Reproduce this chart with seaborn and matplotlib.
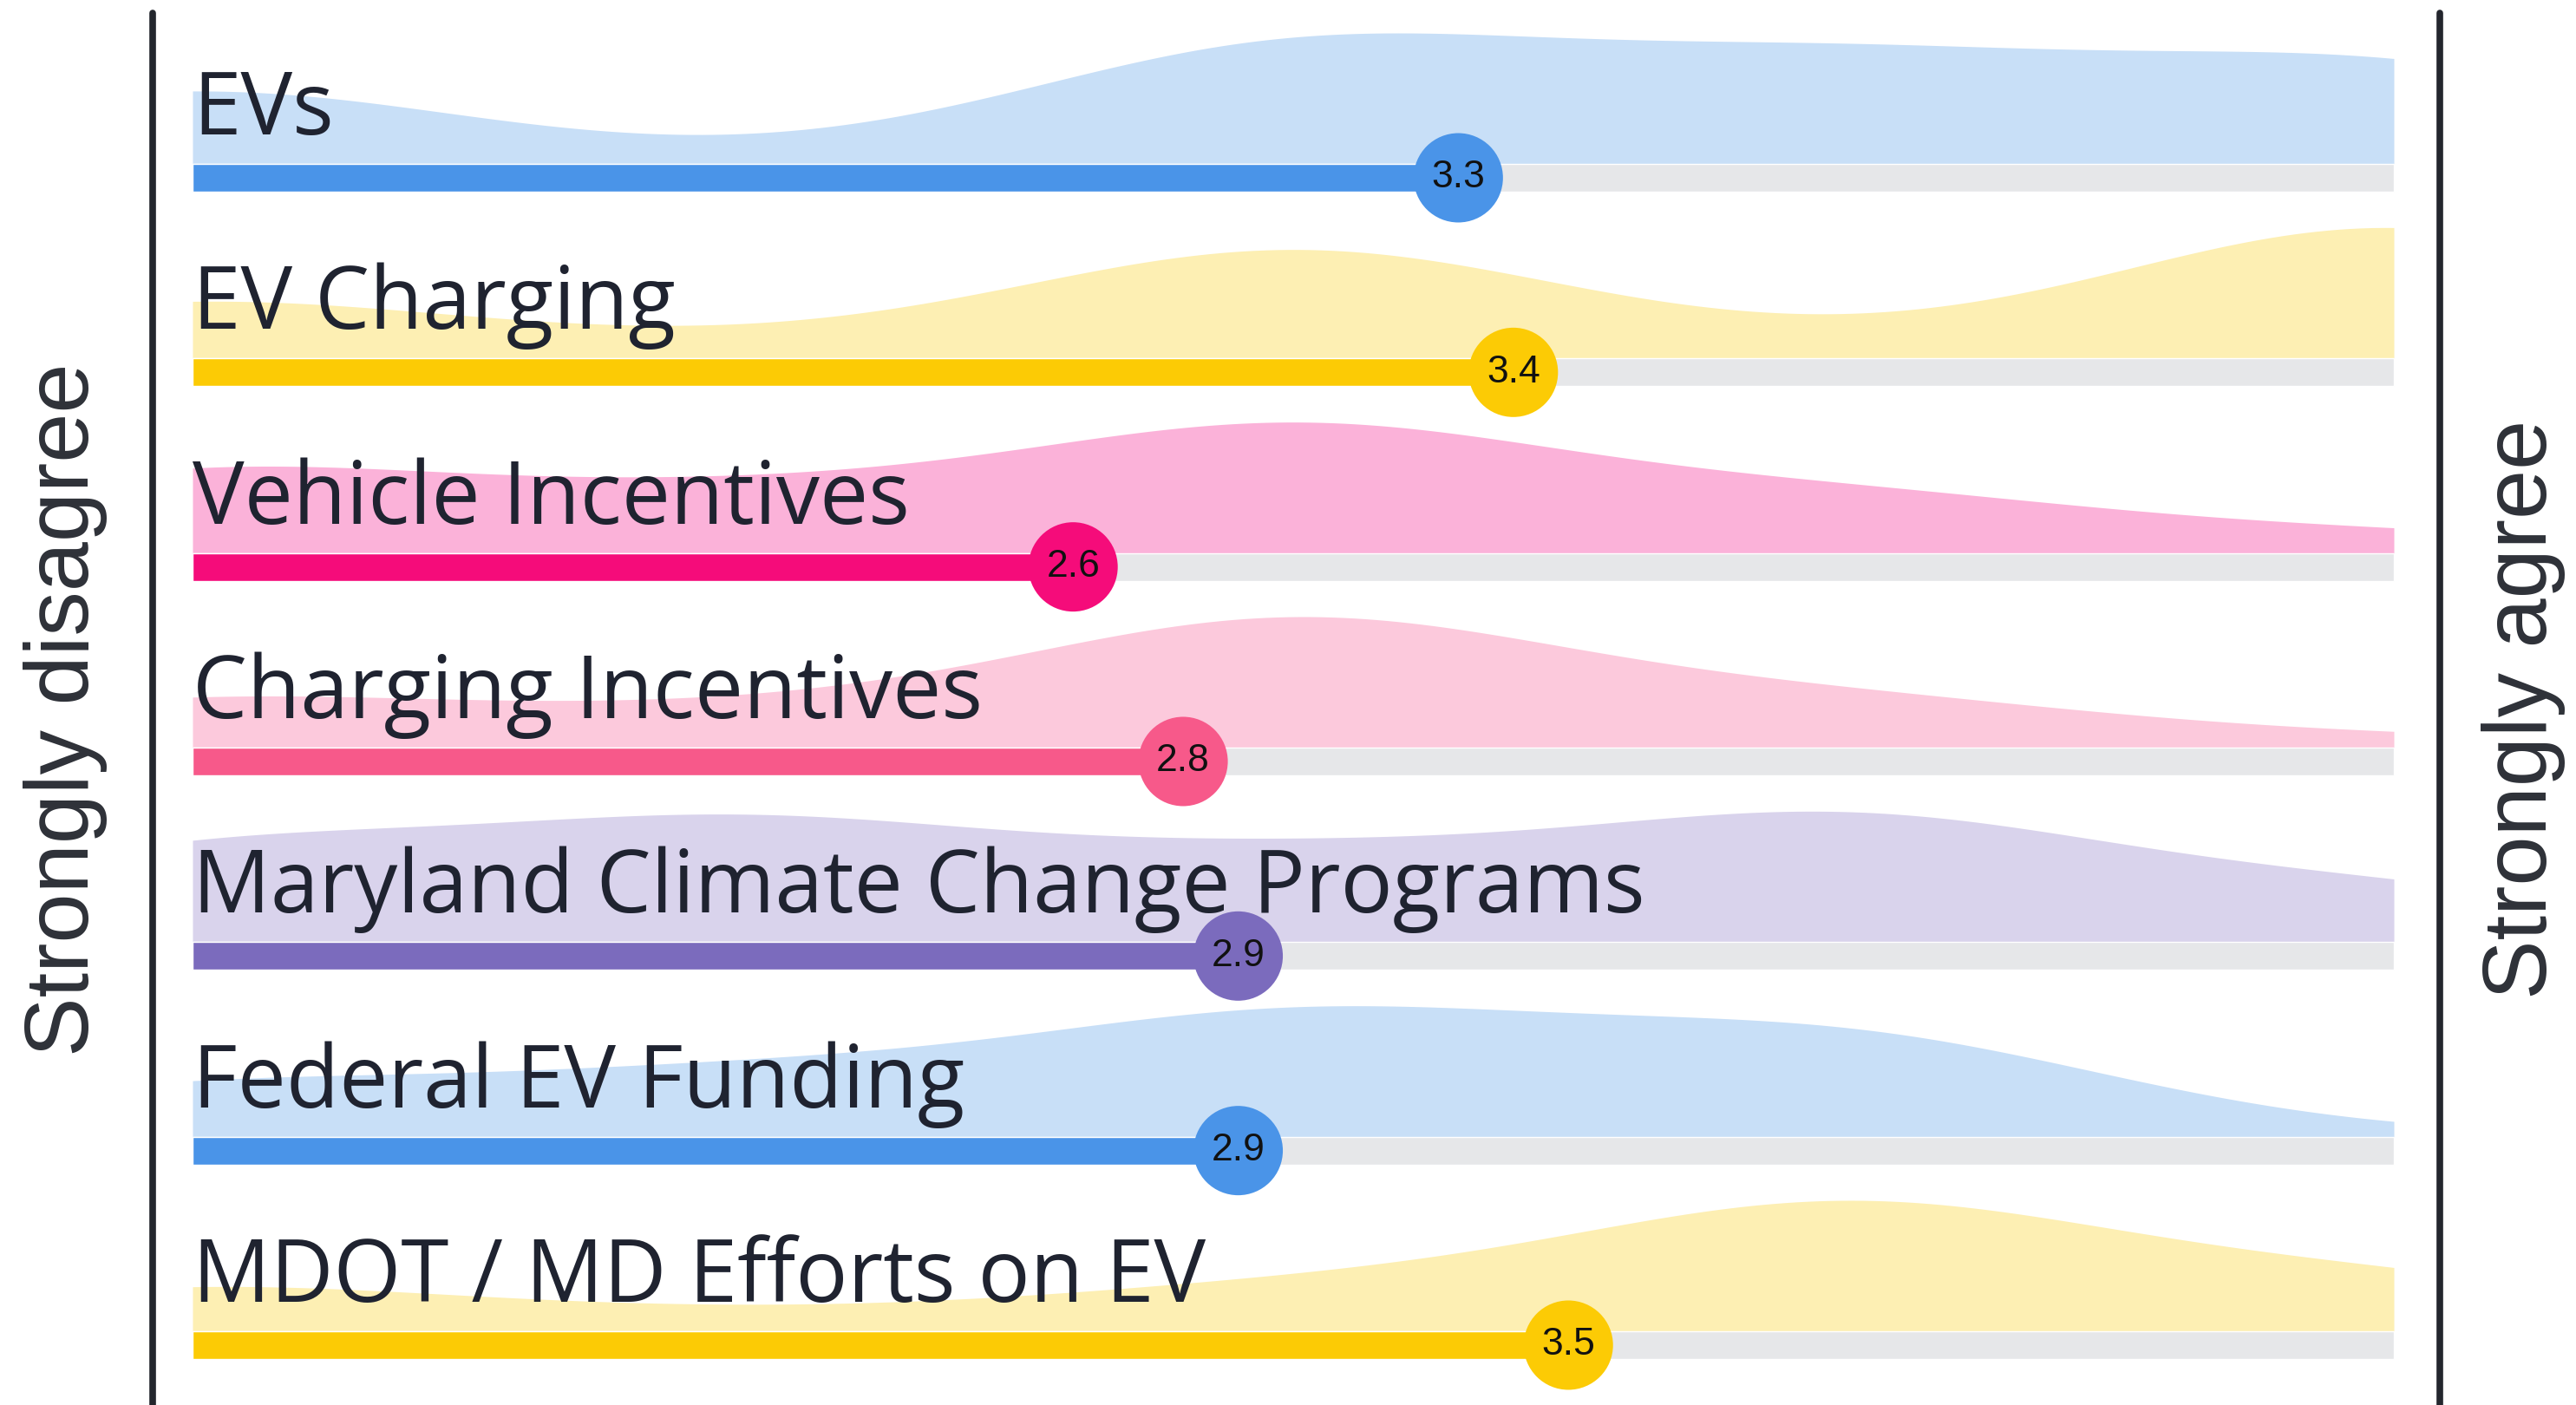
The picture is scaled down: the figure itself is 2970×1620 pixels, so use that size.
import numpy as np
import matplotlib
matplotlib.use("Agg")
import matplotlib.pyplot as plt
import seaborn as sns

# Likert scale: 1 = strongly disagree ... 5 = strongly agree
levels = [1, 2, 3, 4, 5]

topics = ["EVs", "EV Charging", "Vehicle Incentives", "Charging Incentives",
          "Maryland Climate Change Programs", "Federal EV Funding",
          "MDOT / MD Efforts on EV"]
means = [3.3, 3.4, 2.6, 2.8, 2.9, 2.9, 3.5]

# responses per level
evs = [28, 2, 44, 36, 36]
ev_charging = [21, 5, 40, 5, 49]
vehicle_inc = [30, 20, 45, 20, 7]
charging_inc = [18, 12, 47, 17, 4]
maryland = [33, 40, 28, 43, 18]
federal = [19, 22, 43, 37, 1]
mdot = [16, 6, 15, 45, 18]
counts = [evs, ev_charging, vehicle_inc, charging_inc, maryland, federal, mdot]

bar_colors = ["#4a94e8", "#fccb05", "#f50c7a", "#f7598a", "#7b6bbd", "#4a94e8", "#fccb05"]
fill_colors = ["#c8dff7", "#fdefb3", "#fbb2d9", "#fcc9dc", "#d9d3ec", "#c8dff7", "#fdefb3"]

# layout in pixels
W, H = 2970, 1620
X0, X1 = 222, 2760          # track from level 1 to level 5
ROW0, ROW_STEP = 205, 224.33
BAR_H = 32
DENS_H = 151
LEFT_LINE, RIGHT_LINE = 176, 2813
KERNEL_SD = 0.5

sns.set_theme(style="white")
plt.rcParams["font.family"] = ["Open Sans", "DejaVu Sans"]

fig = plt.figure(figsize=(W / 100, H / 100), dpi=100)
fig.patch.set_facecolor("white")

px_per_unit = (X1 - X0) / 4

# density ridges, one small axes per topic
for i, c in enumerate(counts):
    center = ROW0 + i * ROW_STEP
    top_of_bar = center - BAR_H / 2
    dax = fig.add_axes([X0 / W, 1 - top_of_bar / H, (X1 - X0) / W, DENS_H / H])
    dax.set_zorder(1)
    sd = np.sqrt(np.cov(levels, aweights=c))
    sns.kdeplot(x=levels, weights=c, bw_method=KERNEL_SD / sd, clip=(1, 5),
                fill=True, color=fill_colors[i], alpha=1, linewidth=0, ax=dax)
    ymax = dax.collections[0].get_paths()[0].vertices[:, 1].max()
    dax.set_xlim(1, 5)
    dax.set_ylim(0, ymax)
    dax.axis("off")

# main axes: tracks, bars, dots, labels
ax = fig.add_axes([0, 0, 1, 1])
ax.set_zorder(2)
ax.patch.set_alpha(0)
ax.set_xlim(1 - X0 / px_per_unit, 1 + (W - X0) / px_per_unit)
ax.set_ylim((H - ROW0) / ROW_STEP, -ROW0 / ROW_STEP)
ax.axis("off")

rows = np.arange(len(topics))
bar_h = BAR_H / ROW_STEP
ax.barh(rows, [4] * len(rows), left=1, height=bar_h, color="#e6e7e9", zorder=1)
ax.barh(rows, np.array(means) - 1, left=1, height=bar_h, color=bar_colors, zorder=2)

for i, t in enumerate(topics):
    ax.text(1, i - 50 / ROW_STEP, t, ha="left", va="baseline", fontsize=72,
            color="#1f2330", zorder=2.5)

ax.scatter(means, rows, s=5500, c=bar_colors, linewidths=0, zorder=3)
for i, m in enumerate(means):
    ax.text(m, i, f"{m:.1f}", ha="center", va="center", fontsize=32,
            color="#111111", family="Liberation Sans", zorder=4)

for px in (LEFT_LINE, RIGHT_LINE):
    ax.axvline(1 + (px - X0) / px_per_unit, ymin=0, ymax=1 - 15 / H,
               color="#23262d", lw=5.5)

fig.text(76 / W, 1 - 818 / H, "Strongly disagree", rotation=90, ha="center",
         va="center", fontsize=74, color="#2e3138", family="Liberation Sans")
fig.text(2910 / W, 1 - 818 / H, "Strongly agree", rotation=90, ha="center",
         va="center", fontsize=74, color="#2e3138", family="Liberation Sans")

fig.savefig("out.png", dpi=100, facecolor="white")
